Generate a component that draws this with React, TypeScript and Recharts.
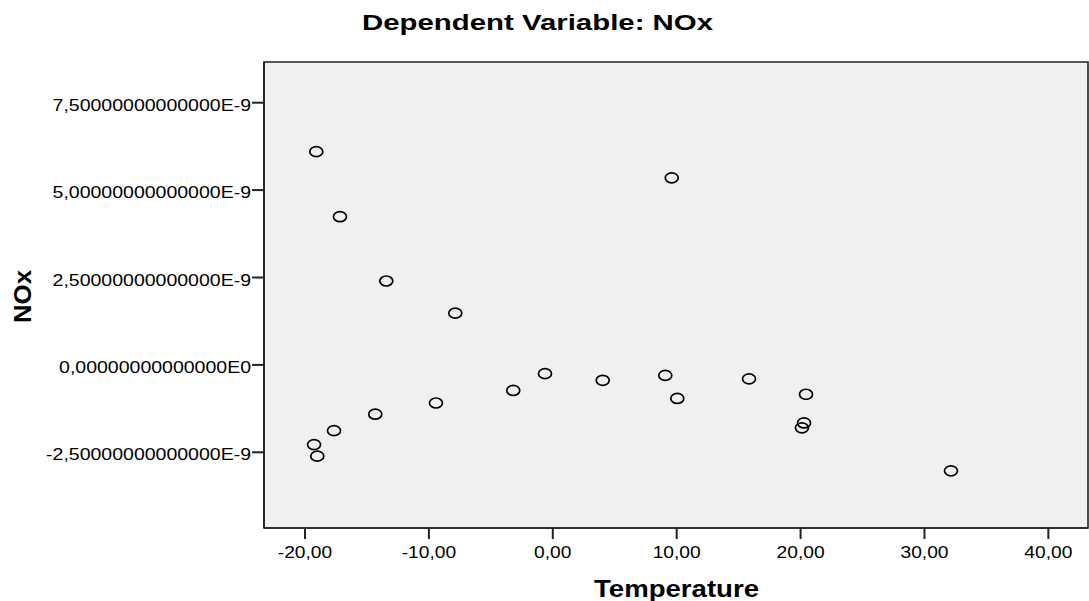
import React from "react";
import { ScatterChart, Scatter, XAxis, YAxis, CartesianGrid, ReferenceArea } from "recharts";

const temperature = [
  -19.09, -17.18, -13.44, -7.87, 9.6, -0.63, -3.19, 4.03, 9.08, 10.05,
  15.84, 20.44, 20.28, 20.11, -9.43, -14.33, -17.66, -19.27, -19.01, 32.14,
];
const noxE9 = [
  6.1, 4.24, 2.4, 1.48, 5.35, -0.25, -0.73, -0.44, -0.3, -0.96,
  -0.4, -0.84, -1.66, -1.8, -1.09, -1.41, -1.88, -2.28, -2.61, -3.03,
];
const xTicks = [-20, -10, 0, 10, 20, 30, 40];
const xTickLabels = ["-20,00", "-10,00", "0,00", "10,00", "20,00", "30,00", "40,00"];
const yTicks = [-2.5e-9, 0, 2.5e-9, 5e-9, 7.5e-9];
const yTickLabels = [
  "-2,50000000000000E-9",
  "0,00000000000000E0",
  "2,50000000000000E-9",
  "5,00000000000000E-9",
  "7,50000000000000E-9",
];
const xDomain = [-23.31, 43.2];
const yDomain = [-4.665e-9, 8.664e-9];
const title = "Dependent Variable: NOx";
const xTitle = "Temperature";
const yTitle = "NOx";

const data = temperature.map((t, i) => ({ x: t, y: noxE9[i] * 1e-9 }));

const FONT = "'Liberation Sans', Arial, sans-serif";

const XTick = (props: any) => {
  const { x, y, payload, index } = props;
  const i = xTicks.indexOf(payload.value);
  const label = i >= 0 ? xTickLabels[i] : xTickLabels[index];
  return (
    <text
      transform={`translate(${x},${y + 19}) scale(1.2,1)`}
      textAnchor="middle"
      fontFamily={FONT}
      fontSize={16}
      fill="#000"
    >
      {label}
    </text>
  );
};

const YTick = (props: any) => {
  const { x, y, index } = props;
  const label = yTickLabels[index];
  return (
    <text
      transform={`translate(${x - 1},${y + 8}) scale(1.22,1)`}
      textAnchor="end"
      fontFamily={FONT}
      fontSize={16}
      fill="#000"
    >
      {label}
    </text>
  );
};

const Marker = (props: any) => {
  const { cx, cy } = props;
  return <ellipse cx={cx} cy={cy} rx={6.5} ry={5} fill="none" stroke="#000" strokeWidth={1.7} />;
};

export default function App() {
  return (
    <div style={{ position: "absolute", left: 0, top: 0, width: 1089, height: 601, background: "#fff" }}>
      <ScatterChart
        width={1089}
        height={601}
        margin={{ top: 62, right: 1, bottom: 23, left: 14 }}
      >
        <CartesianGrid horizontal={false} vertical={false} fill="#f0f0f0" />
        <XAxis
          type="number"
          dataKey="x"
          domain={xDomain}
          allowDataOverflow
          ticks={xTicks}
          interval={0}
          height={50}
          tickSize={11}
          tickMargin={0}
          tick={<XTick />}
          axisLine={{ stroke: "#222", strokeWidth: 1.6 }}
          tickLine={{ stroke: "#222", strokeWidth: 2 }}
        />
        <YAxis
          type="number"
          dataKey="y"
          domain={yDomain}
          allowDataOverflow
          ticks={yTicks}
          interval={0}
          width={250}
          tickSize={12}
          tickMargin={0}
          tick={<YTick />}
          axisLine={{ stroke: "#222", strokeWidth: 1.6 }}
          tickLine={{ stroke: "#222", strokeWidth: 2 }}
        />
        <ReferenceArea
          x1={xDomain[0]}
          x2={xDomain[1]}
          y1={yDomain[0]}
          y2={yDomain[1]}
          fill="none"
          fillOpacity={0}
          stroke="#222"
          strokeWidth={1.6}
          ifOverflow="visible"
        />
        <Scatter data={data} shape={<Marker />} isAnimationActive={false} />
      </ScatterChart>
      <svg
        width={1089}
        height={601}
        style={{ position: "absolute", left: 0, top: 0, pointerEvents: "none" }}
      >
        <text
          x={362}
          y={30}
          fontFamily={FONT}
          fontWeight="bold"
          fontSize={22}
          textLength={351}
          lengthAdjust="spacingAndGlyphs"
          fill="#000"
        >
          {title}
        </text>
        <text
          x={594}
          y={597}
          fontFamily={FONT}
          fontWeight="bold"
          fontSize={23}
          textLength={165}
          lengthAdjust="spacingAndGlyphs"
          fill="#000"
        >
          {xTitle}
        </text>
        <text
          transform="translate(31,323) rotate(-90)"
          fontFamily={FONT}
          fontWeight="bold"
          fontSize={23}
          textLength={53}
          lengthAdjust="spacingAndGlyphs"
          fill="#000"
        >
          {yTitle}
        </text>
      </svg>
    </div>
  );
}
